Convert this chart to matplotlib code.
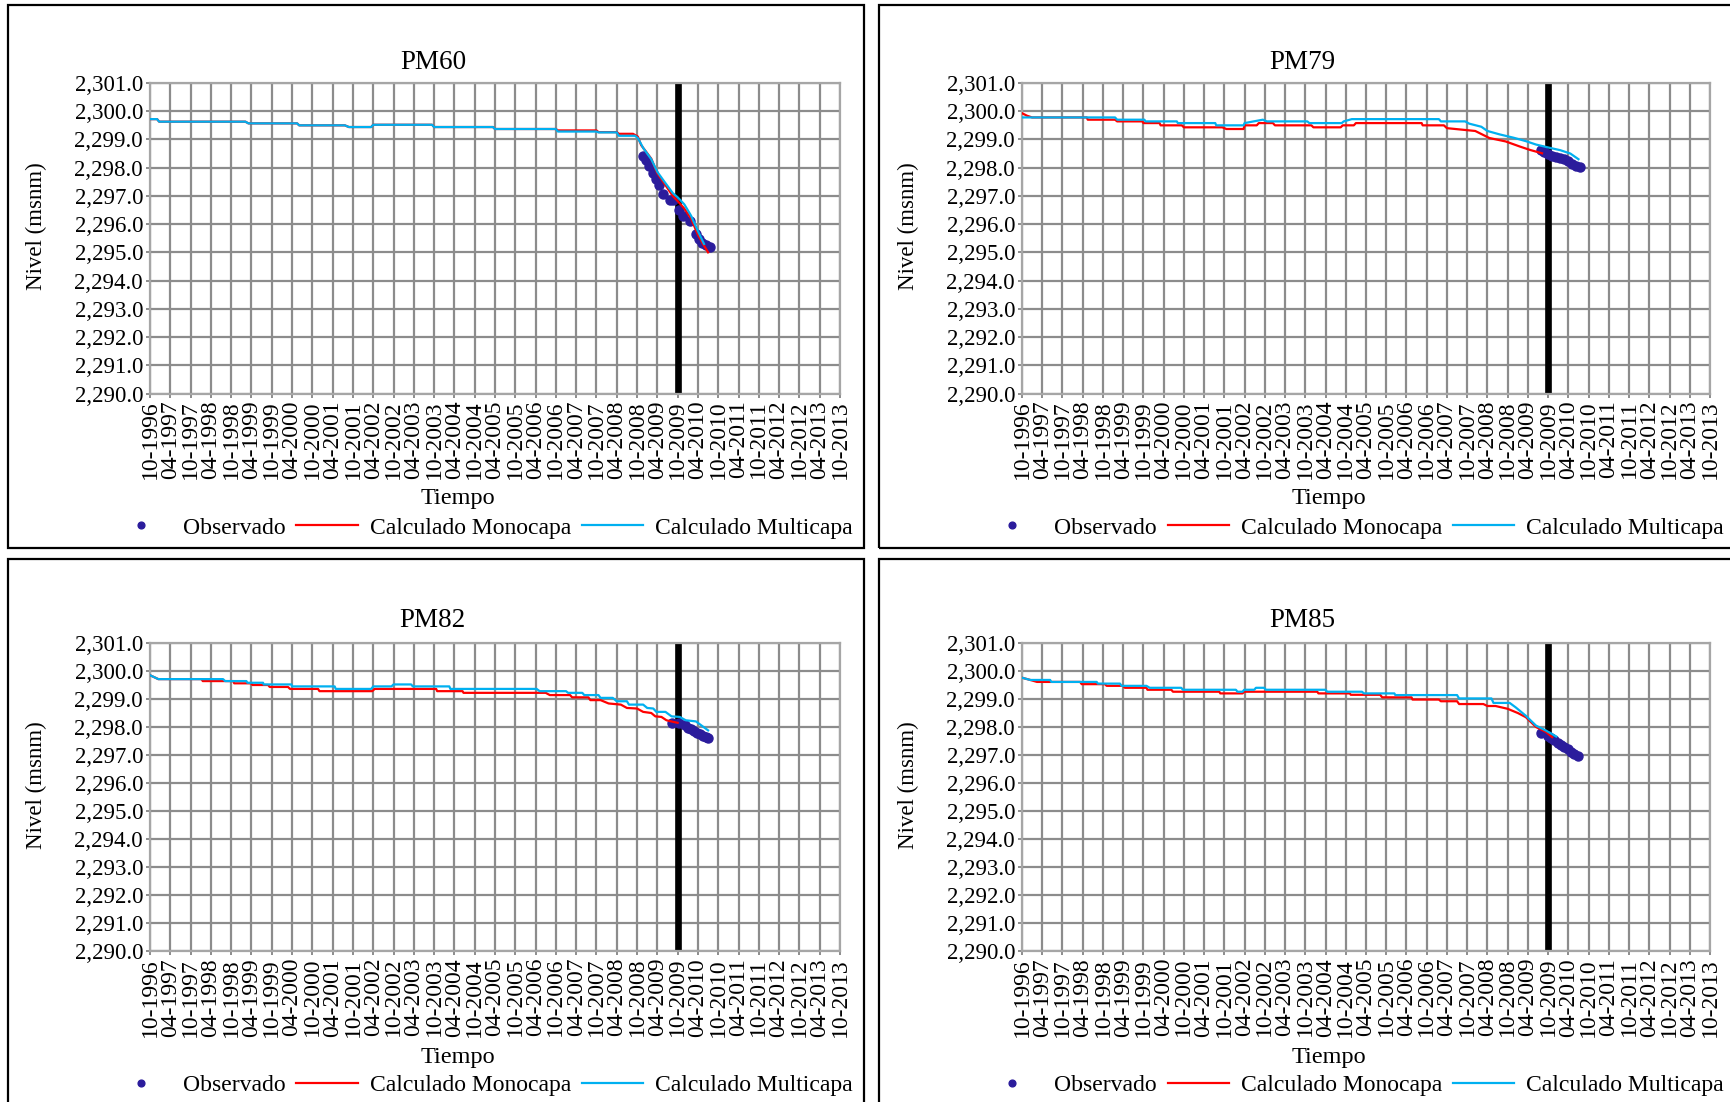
import matplotlib
matplotlib.use('Agg')
import matplotlib.pyplot as plt
from matplotlib.patches import Rectangle

plt.rcParams['font.family'] = ['Liberation Serif', 'DejaVu Serif']

# x positions are in semesters counted from 10-1996 (one tick per semester)
tick_labels = []
for y in range(1996, 2014):
    if y > 1996:
        tick_labels.append('04-%d' % y)
    tick_labels.append('10-%d' % y)

fecha_corte = 26  # 10-2009

# ---------------- PM60 ----------------
pm60_mono_x = [0, 0.35, 0.45, 4.7, 4.85, 7.25, 7.35, 9.6, 9.8, 10.9, 11.0, 13.9, 14.0, 16.9, 17.0,
               20.0, 20.1, 22.0, 22.1, 23.0, 23.1, 23.8, 24.04, 24.2, 24.7, 25.0, 25.35, 25.76,
               26.0, 26.33, 26.66, 27.0, 27.25, 27.5]
pm60_mono_y = [2299.72, 2299.72, 2299.63, 2299.63, 2299.57, 2299.57, 2299.5, 2299.5, 2299.44,
               2299.44, 2299.52, 2299.52, 2299.44, 2299.44, 2299.37, 2299.37, 2299.32, 2299.32,
               2299.26, 2299.26, 2299.2, 2299.2, 2299.1, 2298.8, 2298.32, 2297.8, 2297.43,
               2297.0, 2296.82, 2296.55, 2296.2, 2295.62, 2295.3, 2295.0]
pm60_multi_x = [0, 0.35, 0.45, 4.7, 4.85, 7.25, 7.35, 9.6, 9.8, 10.9, 11.0, 13.9, 14.0, 16.9, 17.0,
                20.0, 20.1, 22.0, 22.1, 23.0, 23.1, 23.9, 24.04, 24.3, 24.7, 25.0, 25.35, 25.76,
                26.0, 26.33, 26.66, 27.0, 27.3]
pm60_multi_y = [2299.72, 2299.72, 2299.63, 2299.63, 2299.57, 2299.57, 2299.5, 2299.5, 2299.44,
                2299.44, 2299.52, 2299.52, 2299.44, 2299.44, 2299.37, 2299.37, 2299.28, 2299.28,
                2299.25, 2299.25, 2299.13, 2299.13, 2299.05, 2298.7, 2298.3, 2297.85, 2297.5,
                2297.1, 2296.95, 2296.7, 2296.3, 2295.75, 2295.3]
pm60_obs_x = [24.28, 24.44, 24.6, 24.78, 24.94, 25.1, 25.26, 25.6, 25.76, 26.08, 26.28, 26.6,
              26.9, 27.06, 27.22, 27.4, 27.58]
pm60_obs_y = [2298.40, 2298.26, 2298.05, 2297.82, 2297.61, 2297.38, 2297.08, 2296.84, 2296.84,
              2296.51, 2296.29, 2296.10, 2295.66, 2295.46, 2295.33, 2295.27, 2295.19]

# ---------------- PM79 ----------------
pm79_mono_x = [0, 0.25, 0.5, 3.2, 3.25, 4.6, 4.7, 5.95, 6.0, 6.8, 6.85, 7.9, 8.0, 9.9, 10.1,
               10.95, 11.0, 11.6, 11.7, 12.4, 12.5, 14.3, 14.4, 15.75, 15.85, 16.4, 16.5, 19.75,
               19.8, 20.85, 21.0, 22.4, 23.1, 23.9, 24.6, 25.1, 25.7]
pm79_mono_y = [2299.93, 2299.84, 2299.78, 2299.78, 2299.7, 2299.7, 2299.64, 2299.64, 2299.58,
               2299.58, 2299.5, 2299.5, 2299.43, 2299.43, 2299.37, 2299.37, 2299.5, 2299.5,
               2299.58, 2299.58, 2299.5, 2299.5, 2299.43, 2299.43, 2299.5, 2299.5, 2299.58,
               2299.58, 2299.5, 2299.5, 2299.4, 2299.3, 2299.05, 2298.93, 2298.75, 2298.63,
               2298.51]
pm79_multi_x = [0, 4.6, 4.7, 6.05, 6.1, 7.65, 7.7, 9.55, 9.6, 10.95, 11.0, 11.9, 12.1, 14.1,
                14.2, 15.8, 15.9, 16.3, 20.6, 20.7, 21.9, 22.1, 22.7, 23.0, 23.6, 24.3, 24.9,
                25.4, 26.1, 26.6, 27.1, 27.5]
pm79_multi_y = [2299.78, 2299.78, 2299.7, 2299.7, 2299.64, 2299.64, 2299.58, 2299.58, 2299.5,
                2299.5, 2299.58, 2299.7, 2299.64, 2299.64, 2299.58, 2299.58, 2299.64, 2299.72,
                2299.72, 2299.64, 2299.64, 2299.56, 2299.45, 2299.3, 2299.18, 2299.06, 2298.94,
                2298.82, 2298.7, 2298.62, 2298.5, 2298.3]
pm79_obs_x = [25.63, 25.8, 26.0, 26.2, 26.4, 26.6, 26.8, 27.0, 27.2, 27.4, 27.56]
pm79_obs_y = [2298.63, 2298.55, 2298.48, 2298.4, 2298.38, 2298.33, 2298.3, 2298.22, 2298.12,
              2298.06, 2298.02]

# ---------------- PM82 ----------------
pm82_mono_x = [0, 0.41, 2.54, 2.6, 4.1, 4.15, 5.0, 5.05, 5.82, 5.9, 6.8, 6.9, 8.28, 8.35, 10.95,
               11.07, 14.1, 14.15, 15.4, 15.45, 19.5, 19.7, 20.7, 20.8, 21.6, 21.7, 22.2, 22.6,
               23.2, 23.5, 24.0, 24.3, 24.7, 24.9, 25.2, 25.45, 25.8, 26.0]
pm82_mono_y = [2299.85, 2299.71, 2299.71, 2299.64, 2299.64, 2299.56, 2299.56, 2299.5, 2299.5,
               2299.43, 2299.43, 2299.36, 2299.36, 2299.28, 2299.28, 2299.36, 2299.36, 2299.28,
               2299.28, 2299.22, 2299.22, 2299.14, 2299.14, 2299.06, 2299.06, 2298.96, 2298.96,
               2298.84, 2298.8, 2298.68, 2298.66, 2298.54, 2298.5, 2298.38, 2298.36, 2298.24,
               2298.18, 2298.15]
pm82_multi_x = [0, 0.41, 3.6, 3.7, 4.75, 4.8, 5.57, 5.6, 6.97, 7.0, 9.1, 9.15, 10.9, 11.0, 11.9,
                12.0, 12.87, 12.95, 14.75, 14.8, 19.05, 19.2, 20.5, 20.6, 21.3, 21.4, 22.1, 22.2,
                22.8, 23.0, 23.5, 23.6, 24.3, 24.5, 24.8, 24.95, 25.4, 25.7, 26.1, 26.4, 26.9,
                27.2, 27.5]
pm82_multi_y = [2299.85, 2299.71, 2299.71, 2299.64, 2299.64, 2299.58, 2299.58, 2299.52, 2299.52,
                2299.45, 2299.45, 2299.36, 2299.36, 2299.45, 2299.45, 2299.52, 2299.52, 2299.45,
                2299.45, 2299.36, 2299.36, 2299.28, 2299.28, 2299.22, 2299.22, 2299.14, 2299.14,
                2299.04, 2299.04, 2298.92, 2298.92, 2298.8, 2298.8, 2298.68, 2298.66, 2298.54,
                2298.54, 2298.38, 2298.36, 2298.24, 2298.2, 2298.04, 2297.88]
pm82_obs_x = [25.72, 26.05, 26.34, 26.5, 26.65, 26.8, 26.95, 27.1, 27.25, 27.38, 27.5]
pm82_obs_y = [2298.15, 2298.14, 2298.06, 2297.98, 2297.92, 2297.86, 2297.8, 2297.74, 2297.69,
              2297.65, 2297.62]

# ---------------- PM85 ----------------
pm85_mono_x = [0, 0.41, 0.74, 2.87, 2.95, 4.1, 4.18, 5.0, 5.08, 6.15, 6.2, 7.38, 7.46, 9.75, 9.8,
               10.9, 10.98, 14.59, 14.65, 16.2, 16.25, 17.7, 17.8, 19.25, 19.3, 20.6, 20.7, 21.5,
               21.6, 22.8, 23.0, 23.4, 24.0, 24.5, 24.9, 25.4, 25.9, 26.2]
pm85_mono_y = [2299.76, 2299.68, 2299.61, 2299.61, 2299.53, 2299.53, 2299.47, 2299.47, 2299.4,
               2299.4, 2299.33, 2299.33, 2299.26, 2299.26, 2299.2, 2299.2, 2299.26, 2299.26,
               2299.2, 2299.2, 2299.15, 2299.15, 2299.06, 2299.06, 2298.98, 2298.98, 2298.92,
               2298.92, 2298.82, 2298.82, 2298.75, 2298.75, 2298.65, 2298.5, 2298.35, 2298.0,
               2297.82, 2297.64]
pm85_multi_x = [0, 0.41, 1.39, 1.45, 3.69, 3.75, 4.84, 4.92, 6.15, 6.31, 7.87, 7.95, 10.57,
                10.65, 10.9, 10.98, 11.48, 11.56, 11.97, 12.05, 15.0, 15.08, 16.8, 16.9, 18.4,
                18.45, 21.5, 21.6, 23.2, 23.3, 24.1, 24.4, 24.9, 25.4, 25.9, 26.4]
pm85_multi_y = [2299.76, 2299.68, 2299.68, 2299.61, 2299.61, 2299.55, 2299.55, 2299.47, 2299.47,
                2299.4, 2299.4, 2299.33, 2299.33, 2299.26, 2299.26, 2299.33, 2299.33, 2299.4,
                2299.4, 2299.33, 2299.33, 2299.26, 2299.26, 2299.2, 2299.2, 2299.14, 2299.14,
                2299.02, 2299.02, 2298.86, 2298.86, 2298.7, 2298.4, 2298.05, 2297.87, 2297.66]
pm85_obs_x = [25.64, 25.97, 26.14, 26.3, 26.47, 26.64, 26.8, 26.97, 27.14, 27.3, 27.46]
pm85_obs_y = [2297.78, 2297.67, 2297.6, 2297.52, 2297.44, 2297.36, 2297.28, 2297.2, 2297.12,
              2297.05, 2296.97]

panels = [
    ('PM60', pm60_obs_x, pm60_obs_y, pm60_mono_x, pm60_mono_y, pm60_multi_x, pm60_multi_y),
    ('PM79', pm79_obs_x, pm79_obs_y, pm79_mono_x, pm79_mono_y, pm79_multi_x, pm79_multi_y),
    ('PM82', pm82_obs_x, pm82_obs_y, pm82_mono_x, pm82_mono_y, pm82_multi_x, pm82_multi_y),
    ('PM85', pm85_obs_x, pm85_obs_y, pm85_mono_x, pm85_mono_y, pm85_multi_x, pm85_multi_y),
]

W, H = 1730., 1102.

def px_box(x0, y0, x1, y1):
    # pixel box (top-left origin) -> figure fraction [left, bottom, width, height]
    return [x0 / W, 1 - y1 / H, (x1 - x0) / W, (y1 - y0) / H]

axes_boxes = [px_box(150, 83, 840, 393.5), px_box(1022, 83, 1710, 393.5),
              px_box(150, 643, 840, 951), px_box(1022, 643, 1710, 951)]
frame_boxes = [px_box(8, 5, 864, 548), px_box(879, 5, 1740, 548),
               px_box(8, 559, 864, 1115), px_box(879, 559, 1740, 1115)]
title_x = [0.41, 0.407, 0.41, 0.407]

def draw_panel(ax, name, ox, oy, mx, my, cx, cy, tx, top):
    ax.set_xlim(0, len(tick_labels) - 1)
    ax.set_ylim(2290, 2301)
    ax.set_xticks(range(len(tick_labels)))
    ax.set_xticklabels(tick_labels, rotation=90, fontsize=17)
    ax.set_yticks(range(2290, 2302))
    ax.set_yticklabels(['{:,.1f}'.format(v) for v in range(2290, 2302)], fontsize=16.5)
    ax.grid(True, color='#8c8c8c', linewidth=1.6)
    ax.set_axisbelow(True)
    for s in ax.spines.values():
        s.set_color('#a6a6a6')
        s.set_linewidth(1.6)
    ax.tick_params(length=3, width=1.4, color='#8c8c8c', pad=2)
    ax.axvline(fecha_corte, color='black', linewidth=4.8, zorder=2)
    h_obs, = ax.plot(ox, oy, 'o', color='#2b1c9c', markersize=6.5, linestyle='none',
                     label='Observado', zorder=3)
    h_mono, = ax.plot(mx, my, color='#ff0000', linewidth=1.6, label='Calculado Monocapa', zorder=4)
    h_multi, = ax.plot(cx, cy, color='#00b0f0', linewidth=1.6, label='Calculado Multicapa', zorder=5)
    ax.text(tx, 1.065 if top else 1.072, name, transform=ax.transAxes, ha='center',
            va='center', fontsize=19.5)
    ax.set_ylabel('Nivel (msnm)', fontsize=16.5)
    ax.yaxis.set_label_coords(-0.149, 0.54)
    ax.set_xlabel('Tiempo', fontsize=17.5)
    ax.xaxis.set_label_coords(0.446, -0.305 if top else -0.312)
    leg = ax.legend(handles=[h_obs, h_mono, h_multi], loc='center', ncol=3,
                    bbox_to_anchor=(0.48, -0.433 if top else -0.437), frameon=False,
                    fontsize=17, handlelength=2.6, handletextpad=0.5, columnspacing=0.45,
                    markerscale=0.75)
    return leg

fig = plt.figure(figsize=(17.3, 11.02), dpi=100)
for i, p in enumerate(panels):
    ax = fig.add_axes(axes_boxes[i])
    draw_panel(ax, *p, title_x[i], i < 2)
    r = Rectangle(frame_boxes[i][:2], frame_boxes[i][2], frame_boxes[i][3],
                  transform=fig.transFigure, fill=False, edgecolor='black', linewidth=1.6)
    fig.patches.append(r)

fig.savefig('out.png', dpi=100)
